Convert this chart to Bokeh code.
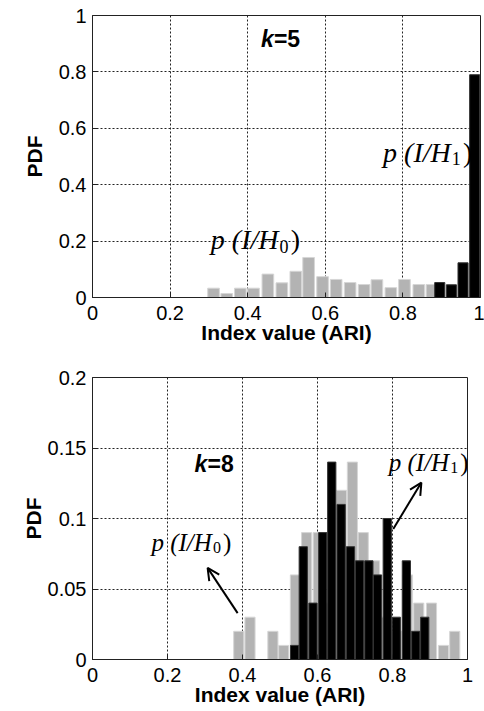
from bokeh.plotting import figure
from bokeh.layouts import column
from bokeh.models import FixedTicker, CustomJSTickFormatter, Arrow, OpenHead
from bokeh.core.properties import value
from bokeh.embed import file_html
from bokeh.resources import INLINE

# ---------------- data ----------------
# k = 5
k5_h0_x = [0.312, 0.346, 0.381, 0.415, 0.452, 0.488, 0.524, 0.557, 0.593,
           0.628, 0.664, 0.700, 0.733, 0.769, 0.804, 0.841, 0.875]
k5_h0_pdf = [0.033, 0.014, 0.033, 0.033, 0.083, 0.052, 0.093, 0.142, 0.074,
             0.064, 0.053, 0.046, 0.063, 0.035, 0.064, 0.046, 0.046]
k5_h1_x = [0.895, 0.925, 0.955, 0.985]
k5_h1_pdf = [0.053, 0.045, 0.123, 0.79]

# k = 8
k8_h0_x = [0.390, 0.420, 0.481, 0.510, 0.541, 0.571, 0.602, 0.632, 0.664, 0.693,
           0.722, 0.752, 0.781, 0.811, 0.840, 0.870, 0.904, 0.936, 0.966]
k8_h0_pdf = [0.02, 0.03, 0.02, 0.01, 0.06, 0.09, 0.09, 0.04, 0.12, 0.14,
             0.09, 0.07, 0.03, 0.02, 0.06, 0.04, 0.04, 0.01, 0.02]
k8_h1_x = [0.539, 0.562, 0.588, 0.614, 0.638, 0.663, 0.688, 0.712, 0.737,
           0.760, 0.786, 0.810, 0.837, 0.862, 0.886]
k8_h1_pdf = [0.01, 0.08, 0.04, 0.09, 0.14, 0.11, 0.08, 0.07, 0.07,
             0.06, 0.10, 0.03, 0.07, 0.02, 0.03]

x_ticks = [0, 0.2, 0.4, 0.6, 0.8, 1.0]
k5_y_ticks = [0, 0.2, 0.4, 0.6, 0.8, 1.0]
k8_y_ticks = [0, 0.05, 0.1, 0.15, 0.2]

x_label = "Index value (ARI)"
y_label = "PDF"

GRAY = "#b3b3b3"
SANS = "Liberation Sans"
SERIF = "Liberation Serif"

fmt = CustomJSTickFormatter(code="return tick.toFixed(2).replace(/\\.?0+$/, '');")


def make_fig(frame_w, ymax, yticks, left, right, top, bottom, ylab_standoff):
    p = figure(frame_width=frame_w, frame_height=282, x_range=(0, 1), y_range=(0, ymax),
               output_backend="svg", toolbar_location=None,
               min_border_left=left, min_border_right=right,
               min_border_top=top, min_border_bottom=bottom)
    p.outline_line_color = "#222222"
    p.outline_line_width = 1
    p.xaxis.ticker = FixedTicker(ticks=x_ticks)
    p.yaxis.ticker = FixedTicker(ticks=yticks)
    for ax in (p.xaxis, p.yaxis):
        ax.formatter = fmt
        ax.major_label_text_font = SANS
        ax.major_label_text_font_size = "20px"
        ax.major_label_text_color = "#000000"
        ax.axis_label_text_font = SANS
        ax.axis_label_text_font_style = "bold"
        ax.axis_label_text_font_size = "21px"
        ax.axis_label_text_color = "#000000"
        ax.major_tick_in = 5
        ax.major_tick_out = 0
        ax.minor_tick_line_color = None
        ax.axis_line_color = "#222222"
        ax.major_tick_line_color = "#222222"
    p.xaxis.axis_label = x_label
    p.yaxis.axis_label = y_label
    p.xaxis.major_label_standoff = 8
    p.xaxis.axis_label_standoff = -2
    p.yaxis.major_label_standoff = 6
    p.yaxis.axis_label_standoff = ylab_standoff
    for g in (p.xgrid, p.ygrid):
        g.grid_line_color = "#222222"
        g.grid_line_dash = "2 2"
        g.grid_line_width = 1
    return p


def hyp_label(p, x, y, sub, size):
    p.text(x=[x], y=[y], text=["p (I/H"], text_font=value(SERIF), text_font_style="italic",
           text_font_size=f"{size}px", text_baseline="alphabetic", text_align="left",
           text_color="#000000")
    w = 2.42 * size
    p.text(x=[x], y=[y], text=[sub], x_offset=w + 1, y_offset=0.22 * size,
           text_font=value(SERIF), text_font_size=f"{round(0.65 * size)}px",
           text_baseline="alphabetic", text_align="left", text_color="#000000")
    p.text(x=[x], y=[y], text=[")"], x_offset=w + 0.36 * size + 2, y_offset=0,
           text_font=value(SERIF), text_font_size=f"{size}px",
           text_baseline="alphabetic", text_align="left", text_color="#000000")


def k_label(p, x, y, kval):
    p.text(x=[x], y=[y], text=["k"], text_font=value(SANS), text_font_style="bold italic",
           text_font_size="23px", text_baseline="alphabetic", text_align="left",
           text_color="#000000")
    p.text(x=[x], y=[y], text=[f"={kval}"], x_offset=13, text_font=value(SANS),
           text_font_style="bold", text_font_size="23px", text_baseline="alphabetic",
           text_align="left", text_color="#000000")


# ---------------- k = 5 ----------------
p1 = make_fig(388, 1.0, k5_y_ticks, left=92, right=4, top=15, bottom=56, ylab_standoff=10)
p1.vbar(x=k5_h0_x, top=k5_h0_pdf, width=0.030, fill_color=GRAY, line_color="#d6d6d6")
p1.vbar(x=k5_h1_x, top=k5_h1_pdf, width=0.026, fill_color="#000000", line_color="#333333")
k_label(p1, 0.434, 0.915, 5)
hyp_label(p1, 0.305, 0.204, "0", 28)
hyp_label(p1, 0.749, 0.514, "1", 28)

# ---------------- k = 8 ----------------
p2 = make_fig(375, 0.2, k8_y_ticks, left=91, right=18, top=24, bottom=50, ylab_standoff=0)
p2.vbar(x=k8_h0_x, top=k8_h0_pdf, width=0.027, fill_color=GRAY, line_color="#d6d6d6")
p2.vbar(x=k8_h1_x, top=k8_h1_pdf, width=0.022, fill_color="#000000", line_color="#333333")
k_label(p2, 0.272, 0.139, 8)
hyp_label(p2, 0.157, 0.083, "0", 25)
hyp_label(p2, 0.790, 0.140, "1", 25)

arrow1_start, arrow1_end = (0.802, 0.0926), (0.877, 0.1255)
arrow0_start, arrow0_end = (0.387, 0.0329), (0.307, 0.065)
for (xs, ys), (xe, ye) in ((arrow1_start, arrow1_end), (arrow0_start, arrow0_end)):
    p2.add_layout(Arrow(end=OpenHead(size=12, line_width=2, line_color="#000000"),
                        x_start=xs, y_start=ys, x_end=xe, y_end=ye,
                        line_width=2, line_color="#000000"))

layout = column(p1, p2, spacing=0)
open("out.html", "w").write(file_html(layout, INLINE))
